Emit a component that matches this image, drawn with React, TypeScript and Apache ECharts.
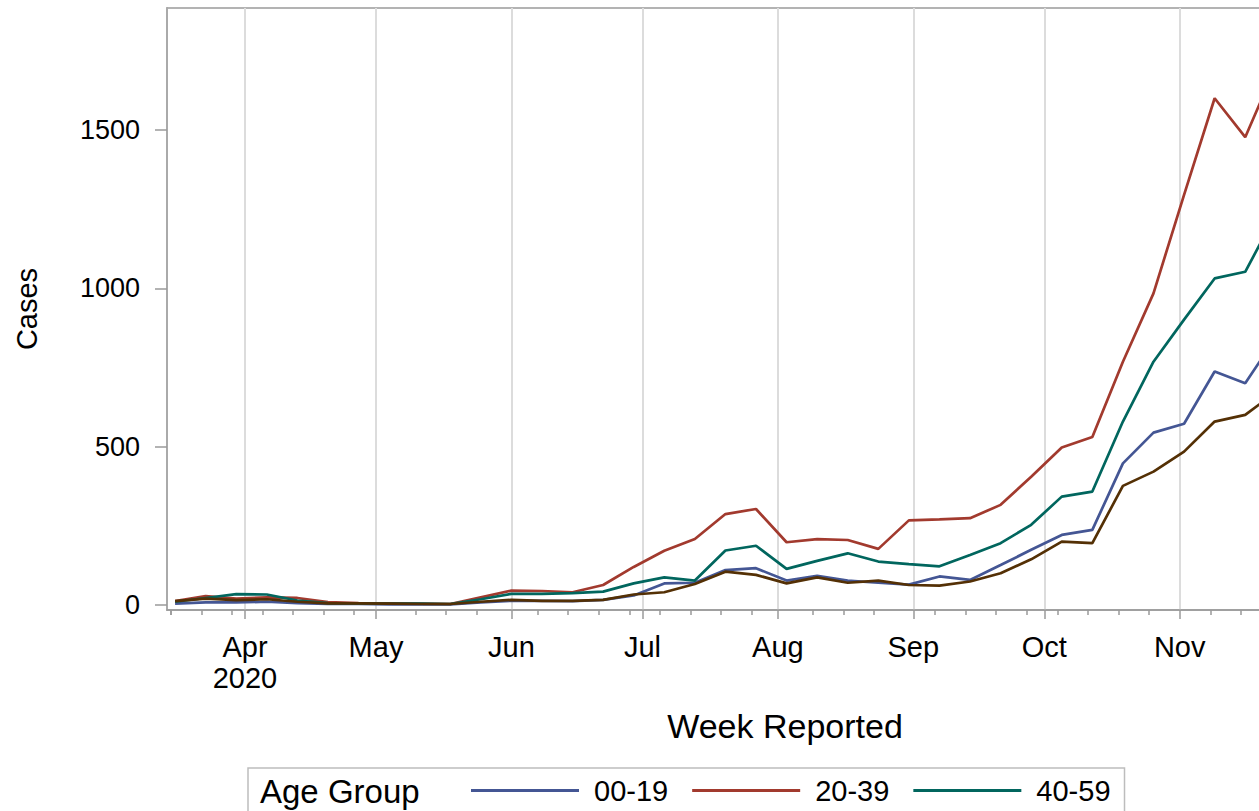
import React, { useEffect, useRef } from "react";
import * as echarts from "echarts";

// Week reported (Mondays, 2020)
const weeks = [
  "2020-03-16", "2020-03-23", "2020-03-30", "2020-04-06", "2020-04-13", "2020-04-20", "2020-04-27",
  "2020-05-04", "2020-05-11", "2020-05-18", "2020-05-25", "2020-06-01", "2020-06-08", "2020-06-15",
  "2020-06-22", "2020-06-29", "2020-07-06", "2020-07-13", "2020-07-20", "2020-07-27", "2020-08-03",
  "2020-08-10", "2020-08-17", "2020-08-24", "2020-08-31", "2020-09-07", "2020-09-14", "2020-09-21",
  "2020-09-28", "2020-10-05", "2020-10-12", "2020-10-19", "2020-10-26", "2020-11-02", "2020-11-09",
  "2020-11-16", "2020-11-23",
];

const ageGroups = ["00-19", "20-39", "40-59", "60+"];

const cases0019 = [4, 8, 8, 10, 6, 3, 3, 2, 2, 2, 8, 13, 13, 12, 16, 30, 68, 70, 110, 116, 77, 92, 77, 70, 64, 90, 79, 126, 174, 221, 237, 447, 544, 572, 737, 700, 844];
const cases2039 = [12, 28, 20, 24, 22, 9, 6, 5, 4, 3, 24, 45, 44, 40, 63, 120, 171, 208, 287, 303, 198, 208, 205, 177, 267, 270, 274, 316, 405, 497, 530, 768, 984, 1295, 1600, 1477, 1700];
const cases4059 = [10, 22, 34, 33, 14, 6, 5, 4, 4, 3, 18, 35, 35, 37, 42, 68, 87, 77, 172, 187, 114, 139, 163, 137, 129, 122, 158, 195, 253, 342, 358, 579, 768, 901, 1031, 1052, 1233];
const cases60plus = [12, 20, 15, 18, 10, 5, 5, 4, 3, 3, 10, 16, 13, 13, 16, 33, 40, 66, 105, 95, 68, 87, 70, 77, 63, 61, 74, 100, 144, 200, 195, 376, 421, 484, 579, 600, 672];

const seriesValues = [cases0019, cases2039, cases4059, cases60plus];
const seriesColors = ["#445694", "#A23A2E", "#01665E", "#543005"];

const yTickValues = [0, 500, 1000, 1500];
const monthNames = ["Jan", "Feb", "Mar", "Apr", "May", "Jun", "Jul", "Aug", "Sep", "Oct", "Nov", "Dec"];

// weekly minor ticks (Sundays)
const minorTickDates = [
  "2020-03-15", "2020-03-22", "2020-03-29", "2020-04-05", "2020-04-12", "2020-04-19", "2020-04-26",
  "2020-05-10", "2020-05-17", "2020-05-24", "2020-06-07", "2020-06-14", "2020-06-21", "2020-06-28",
  "2020-07-05", "2020-07-12", "2020-07-19", "2020-07-26", "2020-08-09", "2020-08-16", "2020-08-23",
  "2020-09-06", "2020-09-13", "2020-09-20", "2020-09-27", "2020-10-04", "2020-10-11", "2020-10-18",
  "2020-10-25", "2020-11-08", "2020-11-15", "2020-11-22", "2020-11-29", "2020-12-06", "2020-12-13",
  "2020-12-20",
];

const toTs = (s: string) => {
  const [y, m, d] = s.split("-").map(Number);
  return Date.UTC(y, m - 1, d);
};

const FONT = "'Liberation Sans', Arial, sans-serif";
const AXIS_GRAY = "#9a9a9a";

export default function App() {
  const ref = useRef<HTMLDivElement>(null);

  useEffect(() => {
    document.body.style.margin = "0";
    document.body.style.overflow = "hidden";
    if (!ref.current) return;
    const chart = echarts.init(ref.current, undefined, { renderer: "svg" });

    const xMin = Date.UTC(2020, 2, 14, 3, 36);
    const xMax = Date.UTC(2020, 11, 22, 3, 0);

    const option: any = {
      animation: false,
      useUTC: true,
      backgroundColor: "#ffffff",
      textStyle: { fontFamily: FONT },
      grid: {
        left: 167,
        top: 8,
        right: -144,
        bottom: 201,
        show: true,
        borderColor: AXIS_GRAY,
        borderWidth: 1.5,
        containLabel: false,
        outerBoundsMode: "none",
      },
      xAxis: [
        {
          type: "time",
          position: "bottom",
          min: xMin,
          max: xMax,
          minInterval: 28 * 86400000,
          maxInterval: 31 * 86400000,
          name: "Week Reported",
          nameLocation: "middle",
          nameGap: 99,
          nameTextStyle: { fontSize: 34, color: "#000", fontFamily: FONT },
          axisLine: { show: true, onZero: false, lineStyle: { color: AXIS_GRAY, width: 1.5 } },
          axisTick: { show: true, length: 9, lineStyle: { color: AXIS_GRAY, width: 1.5 } },
          axisLabel: {
            show: true,
            margin: 21,
            fontSize: 29,
            lineHeight: 31,
            color: "#000",
            fontFamily: FONT,
            formatter: (value: number) => {
              const d = new Date(value);
              const m = d.getUTCMonth();
              return m === 3 ? `${monthNames[m]}\n${d.getUTCFullYear()}` : monthNames[m];
            },
          },
          splitLine: { show: true, lineStyle: { color: "#dcdcdc", width: 2 } },
        },
        {
          type: "time",
          position: "bottom",
          min: xMin,
          max: xMax,
          axisLine: { show: false, onZero: false },
          axisTick: {
            show: true,
            length: 5,
            customValues: minorTickDates.map(toTs),
            lineStyle: { color: AXIS_GRAY, width: 1.5 },
          },
          axisLabel: { show: false },
          splitLine: { show: false },
        },
      ],
      yAxis: {
        type: "value",
        min: -16,
        max: 1885,
        name: "Cases",
        nameLocation: "middle",
        nameGap: 126,
        nameTextStyle: { fontSize: 29, color: "#000", fontFamily: FONT },
        axisLine: { show: true, onZero: false, lineStyle: { color: AXIS_GRAY, width: 1.5 } },
        axisTick: { show: true, length: 12, customValues: yTickValues, lineStyle: { color: AXIS_GRAY, width: 1.5 } },
        axisLabel: {
          show: true,
          margin: 27,
          fontSize: 27,
          color: "#000",
          fontFamily: FONT,
          customValues: yTickValues,
          formatter: (v: number) => String(v),
        },
        splitLine: { show: false },
      },
      legend: {
        show: true,
        left: 248,
        top: 768,
        orient: "horizontal",
        padding: [8, 14, 8, 223],
        itemWidth: 108,
        itemHeight: 3,
        itemGap: 24,
        icon: "rect",
        selectedMode: false,
        borderColor: "#bdbdbd",
        borderWidth: 1.5,
        textStyle: { fontSize: 29, color: "#000", fontFamily: FONT, padding: [0, 0, 0, 10] },
        data: ageGroups,
      },
      graphic: [
        {
          type: "text",
          x: 260,
          y: 791,
          style: { text: "Age Group", fontSize: 33, fill: "#000", fontFamily: FONT, verticalAlign: "middle" },
        },
      ],
      series: ageGroups.map((name, i) => ({
        name,
        type: "line",
        xAxisIndex: 0,
        yAxisIndex: 0,
        showSymbol: false,
        symbol: "none",
        color: seriesColors[i],
        lineStyle: { color: seriesColors[i], width: 2.7 },
        data: weeks.map((w, j) => [toTs(w), seriesValues[i][j]]),
      })),
    };

    chart.setOption(option);
    return () => chart.dispose();
  }, []);

  return <div ref={ref} style={{ width: 1259, height: 811 }} />;
}
